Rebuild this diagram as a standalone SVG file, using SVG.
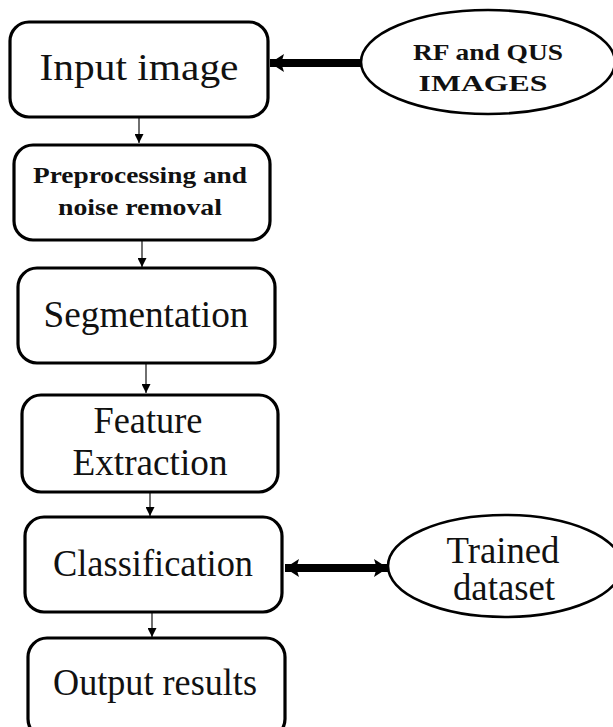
<svg xmlns="http://www.w3.org/2000/svg" width="613" height="727" viewBox="0 0 613 727">
<style>
.box{fill:#fff;stroke:#000;stroke-width:3.2}
.ell{fill:#fff;stroke:#000;stroke-width:2.6}
text{font-family:'Liberation Serif','Times New Roman','DejaVu Serif',serif;fill:#111;text-anchor:middle}
.big{font-size:37px}
.bold{font-size:23px;font-weight:bold}
.thin{stroke:#222;stroke-width:1.3;fill:none}
.thick{stroke:#000;stroke-width:8;fill:none}
</style>
<defs>
<marker id="ah" viewBox="0 0 10 10" refX="10" refY="5" markerWidth="9" markerHeight="9" markerUnits="userSpaceOnUse" orient="auto">
<path d="M0,0 L10,5 L0,10 Z" fill="#000"/>
</marker>
<marker id="bh" viewBox="0 0 10 10" refX="10" refY="5" markerWidth="14" markerHeight="18" markerUnits="userSpaceOnUse" orient="auto-start-reverse" preserveAspectRatio="none">
<path d="M0,0 L10,5 L0,10 L2,5 Z" fill="#000"/>
</marker>
</defs>
<rect width="613" height="727" fill="#fff"/>
<g id="connectors">
<line class="thin" x1="139" y1="118" x2="139" y2="143" marker-end="url(#ah)"/>
<line class="thin" x1="142" y1="241" x2="142" y2="267" marker-end="url(#ah)"/>
<line class="thin" x1="146" y1="364" x2="146" y2="393" marker-end="url(#ah)"/>
<line class="thin" x1="150" y1="493" x2="150" y2="516" marker-end="url(#ah)"/>
<line class="thin" x1="152" y1="613" x2="152" y2="637" marker-end="url(#ah)"/>
<line class="thick" x1="361" y1="63" x2="270" y2="63" marker-end="url(#bh)"/>
<line class="thick" x1="285" y1="568" x2="388" y2="568" marker-start="url(#bh)" marker-end="url(#bh)"/>
</g>
<g id="input">
<rect class="box" x="10" y="22" width="258" height="95" rx="19"/>
<text class="big" x="139" y="80" textLength="199" lengthAdjust="spacingAndGlyphs">Input image</text>
</g>
<g id="rfqus">
<ellipse class="ell" cx="488" cy="62" rx="127" ry="52"/>
<text class="bold" x="488" y="60" textLength="150" lengthAdjust="spacingAndGlyphs">RF and QUS</text>
<text class="bold" x="483" y="91" textLength="129" lengthAdjust="spacingAndGlyphs">IMAGES</text>
</g>
<g id="preprocessing">
<rect class="box" x="14" y="145" width="256" height="95" rx="19"/>
<text class="bold" x="140" y="183" textLength="214" lengthAdjust="spacingAndGlyphs">Preprocessing and</text>
<text class="bold" x="140" y="215" textLength="164" lengthAdjust="spacingAndGlyphs">noise removal</text>
</g>
<g id="segmentation">
<rect class="box" x="18" y="268" width="257" height="95" rx="19"/>
<text class="big" x="146" y="327" textLength="205" lengthAdjust="spacingAndGlyphs">Segmentation</text>
</g>
<g id="feature">
<rect class="box" x="22" y="395" width="256" height="97" rx="19"/>
<text class="big" x="148" y="433" textLength="109" lengthAdjust="spacingAndGlyphs">Feature</text>
<text class="big" x="150" y="475" textLength="155" lengthAdjust="spacingAndGlyphs">Extraction</text>
</g>
<g id="classification">
<rect class="box" x="25" y="517" width="257" height="95" rx="19"/>
<text class="big" x="153" y="576" textLength="200" lengthAdjust="spacingAndGlyphs">Classification</text>
</g>
<g id="trained">
<ellipse class="ell" cx="505" cy="566" rx="117" ry="51"/>
<text class="big" x="503" y="563" textLength="113" lengthAdjust="spacingAndGlyphs">Trained</text>
<text class="big" x="504" y="600" textLength="102" lengthAdjust="spacingAndGlyphs">dataset</text>
</g>
<g id="output">
<rect class="box" x="28" y="638" width="257" height="100" rx="19"/>
<text class="big" x="155" y="695" textLength="204" lengthAdjust="spacingAndGlyphs">Output results</text>
</g>
</svg>
